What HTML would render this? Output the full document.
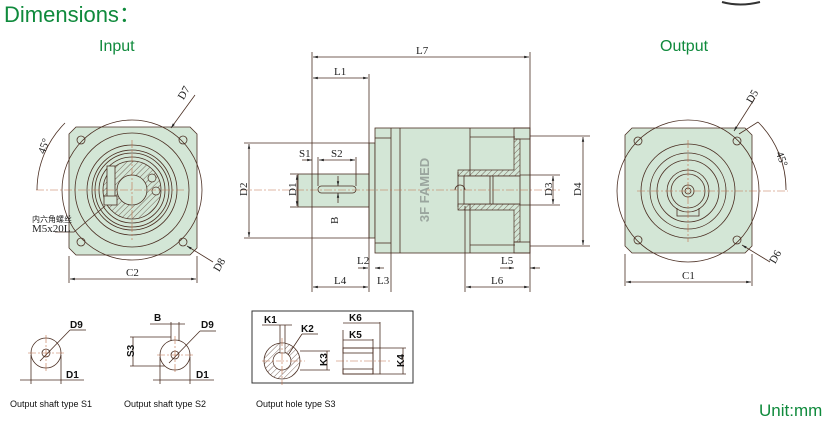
<!DOCTYPE html>
<html><head><meta charset="utf-8"><style>
html,body{margin:0;padding:0;background:#fff;width:833px;height:422px;overflow:hidden}
svg{display:block}
.g{fill:#0f8a3c;font-family:"Liberation Sans",Arial,sans-serif}
.l{fill:none;stroke:#4a2e22;stroke-width:0.8}
.t{font-family:"Liberation Serif","DejaVu Serif",serif;font-size:11px;fill:#222}
.c{stroke:#c0704a;stroke-width:0.6;stroke-dasharray:8 2 2 2;fill:none}
.k{font-family:"Liberation Sans",Arial,sans-serif;font-size:10px;fill:#111;font-weight:bold}
.s{font-family:"Liberation Sans",Arial,sans-serif;font-size:9px;fill:#111}
</style></head><body>
<svg width="833" height="422" viewBox="0 0 833 422" xmlns="http://www.w3.org/2000/svg">
<defs>
<pattern id="h" width="4" height="4" patternUnits="userSpaceOnUse" patternTransform="rotate(45)"><line x1="0" y1="0" x2="0" y2="4" stroke="#4a2e22" stroke-width="0.7"/></pattern>
<marker id="a" markerWidth="6" markerHeight="6" refX="6" refY="3" orient="auto-start-reverse"><path d="M0,1.5 L6,3 L0,4.5z" fill="#222"/></marker>
</defs>
<text x="4" y="22" class="g" font-size="22">Dimensions：</text>
<text x="99" y="51" class="g" font-size="16">Input</text>
<text x="660" y="51" class="g" font-size="16">Output</text>
<text x="759" y="416" class="g" font-size="17">Unit:mm</text>
<path d="M722,2 Q740,7 760,2" stroke="#333" stroke-width="2" fill="none"/>

<!-- INPUT VIEW -->
<g>
<path d="M76,127 L190,127 L197,134 L197,248 L190,255 L76,255 L69,248 L69,134z" fill="#d3e6d6" class="l" style="fill:#d3e6d6"/>
<circle cx="132" cy="190" r="70" class="l"/>
<circle cx="132" cy="190" r="57" class="l"/>
<circle cx="132" cy="190" r="45" class="l"/>
<circle cx="132" cy="190" r="40" class="l"/>
<circle cx="132" cy="190" r="37" class="l"/>
<circle cx="132" cy="190" r="33" class="l"/>
<circle cx="132" cy="190" r="29" fill="url(#h)" stroke="#4a2e22" stroke-width="0.8"/>
<circle cx="132" cy="190" r="15" fill="#d3e6d6" stroke="#4a2e22" stroke-width="0.8"/>
<circle cx="152" cy="178" r="4" fill="#d3e6d6" stroke="#4a2e22" stroke-width="0.7"/>
<circle cx="156" cy="191" r="4" fill="#d3e6d6" stroke="#4a2e22" stroke-width="0.7"/>
<rect x="107" y="166" width="8" height="36" fill="#d3e6d6" class="l" style="fill:#d3e6d6"/>
<rect x="104" y="196" width="13" height="9" fill="#d3e6d6" class="l" style="fill:#d3e6d6"/>
<g class="l"><circle cx="81" cy="140" r="4"/><circle cx="183" cy="140" r="4"/><circle cx="81" cy="242" r="4"/><circle cx="183" cy="242" r="4"/></g>
<line x1="36" y1="190" x2="185" y2="190" class="c"/>
<line x1="132" y1="140" x2="132" y2="240" class="c"/>
<path d="M37,190 A95,95 0 0 1 65,123" class="l"/>
<text x="40" y="152" class="t" transform="rotate(-70 44 150)">45°</text>
<line x1="171" y1="128" x2="195" y2="95" class="l" marker-start="url(#a)"/>
<text x="181" y="96" class="t" transform="rotate(-60 186 96)">D7</text>
<line x1="187" y1="246" x2="213" y2="262" class="l" marker-start="url(#a)"/>
<text x="213" y="270" class="t" transform="rotate(-60 218 266)">D8</text>
<path d="M105,206 L74,232 L55,232" class="l"/>
<text x="32" y="222" font-family="'Noto Sans CJK SC',sans-serif" font-size="8" fill="#222">内六角螺丝</text>
<text x="32" y="232" class="t" font-size="8">M5x20L</text>
<line x1="69" y1="256" x2="69" y2="283" class="l"/><line x1="197" y1="256" x2="197" y2="283" class="l"/>
<line x1="70" y1="279" x2="196" y2="279" class="l" marker-start="url(#a)" marker-end="url(#a)"/>
<text x="126" y="276" class="t">C2</text>
</g>

<!-- SIDE VIEW -->
<g>
<rect x="298" y="174" width="72" height="33" fill="#d3e6d6" class="l" style="fill:#d3e6d6"/>
<rect x="369" y="143" width="6" height="95" fill="#d3e6d6" class="l" style="fill:#d3e6d6"/>
<rect x="375" y="128" width="155" height="125" fill="#d3e6d6" class="l" style="fill:#d3e6d6"/>
<g class="l">
<line x1="391" y1="128" x2="391" y2="253"/><line x1="400" y1="128" x2="400" y2="253"/>
<line x1="375" y1="138" x2="391" y2="138"/><line x1="375" y1="243" x2="391" y2="243"/>
<line x1="470" y1="128" x2="470" y2="253"/>
<line x1="470" y1="137" x2="515" y2="137"/><line x1="470" y1="245" x2="515" y2="245"/>
<line x1="458" y1="172" x2="458" y2="207"/>
</g>
<rect x="514" y="128" width="16" height="11" fill="url(#h)" class="l"/>
<rect x="514" y="242" width="16" height="11" fill="url(#h)" class="l"/>
<path d="M514,139 L514,170 L458,170 L458,176 L520,176 L520,139z" fill="url(#h)" stroke="#4a2e22" stroke-width="0.7"/>
<path d="M514,242 L514,210 L458,210 L458,204 L520,204 L520,242z" fill="url(#h)" stroke="#4a2e22" stroke-width="0.7"/>
<rect x="464" y="176" width="56" height="28" fill="#d3e6d6" class="l" style="fill:#d3e6d6"/>
<line x1="490" y1="176" x2="490" y2="204" class="l"/><line x1="493" y1="176" x2="493" y2="204" class="l"/>
<path d="M455,190 A5,5 0 0 1 465,190" class="l"/>
<rect x="318" y="186" width="38" height="7" rx="3.5" class="l"/>
<line x1="240" y1="190" x2="560" y2="190" class="c"/>
<text x="424" y="195" text-anchor="middle" font-family="Liberation Sans,sans-serif" font-weight="bold" font-size="13" fill="#9aa59e" transform="rotate(-90 424 190)">3F FAMED</text>
<g class="l">
<line x1="312" y1="52" x2="312" y2="292"/><line x1="530" y1="52" x2="530" y2="292"/>
<line x1="369" y1="74" x2="369" y2="292"/>
<line x1="244" y1="143" x2="369" y2="143"/><line x1="244" y1="238" x2="369" y2="238"/>
<line x1="290" y1="174" x2="298" y2="174"/><line x1="290" y1="207" x2="298" y2="207"/>
<line x1="530" y1="136" x2="590" y2="136"/><line x1="530" y1="246" x2="590" y2="246"/>
<line x1="520" y1="175" x2="560" y2="175"/><line x1="520" y1="205" x2="560" y2="205"/>
<line x1="318" y1="157" x2="318" y2="186"/><line x1="356" y1="157" x2="356" y2="186"/>
<line x1="465" y1="206" x2="465" y2="292"/>
<line x1="391" y1="253" x2="391" y2="292"/>
</g>
<line x1="313" y1="57" x2="529" y2="57" class="l" marker-start="url(#a)" marker-end="url(#a)"/>
<text x="416" y="54" class="t">L7</text>
<line x1="313" y1="78" x2="368" y2="78" class="l" marker-start="url(#a)" marker-end="url(#a)"/>
<text x="334" y="75" class="t">L1</text>
<line x1="319" y1="160" x2="355" y2="160" class="l" marker-start="url(#a)" marker-end="url(#a)"/>
<text x="331" y="157" class="t">S2</text>
<line x1="302" y1="160" x2="312" y2="160" class="l" marker-end="url(#a)"/>
<text x="299" y="157" class="t">S1</text>
<line x1="249" y1="144" x2="249" y2="237" class="l" marker-start="url(#a)" marker-end="url(#a)"/>
<text x="236" y="195" class="t" transform="rotate(-90 242 190)">D2</text>
<line x1="297" y1="175" x2="297" y2="206" class="l" marker-start="url(#a)" marker-end="url(#a)"/>
<text x="285" y="195" class="t" transform="rotate(-90 291 190)">D1</text>
<line x1="338" y1="176" x2="338" y2="186" class="l" marker-end="url(#a)"/>
<line x1="338" y1="203" x2="338" y2="193" class="l" marker-end="url(#a)"/>
<text x="328" y="222" class="t" transform="rotate(-90 334 218)">B</text>
<line x1="553" y1="176" x2="553" y2="204" class="l" marker-start="url(#a)" marker-end="url(#a)"/>
<text x="541" y="195" class="t" transform="rotate(-90 547 190)">D3</text>
<line x1="583" y1="137" x2="583" y2="245" class="l" marker-start="url(#a)" marker-end="url(#a)"/>
<text x="570" y="195" class="t" transform="rotate(-90 576 190)">D4</text>
<line x1="313" y1="287" x2="368" y2="287" class="l" marker-start="url(#a)" marker-end="url(#a)"/>
<text x="334" y="284" class="t">L4</text>
<line x1="358" y1="268" x2="368" y2="268" class="l" marker-end="url(#a)"/>
<text x="357" y="264" class="t">L2</text>
<line x1="375" y1="268" x2="384" y2="268" class="l" marker-start="url(#a)"/>
<text x="377" y="284" class="t">L3</text>
<line x1="466" y1="287" x2="529" y2="287" class="l" marker-start="url(#a)" marker-end="url(#a)"/>
<text x="491" y="284" class="t">L6</text>
<line x1="500" y1="268" x2="514" y2="268" class="l" marker-end="url(#a)"/>
<line x1="540" y1="268" x2="530" y2="268" class="l" marker-end="url(#a)"/>
<text x="501" y="264" class="t">L5</text>
</g>

<!-- OUTPUT VIEW -->
<g>
<path d="M632,128 L745,128 L752,135 L752,246 L745,253 L632,253 L625,246 L625,135z" fill="#d3e6d6" class="l" style="fill:#d3e6d6"/>
<circle cx="688" cy="191" r="71" class="l"/>
<circle cx="688" cy="191" r="47" class="l"/>
<circle cx="688" cy="191" r="38" class="l"/>
<circle cx="688" cy="191" r="31" class="l"/>
<circle cx="688" cy="191" r="21" class="l"/>
<circle cx="688" cy="191" r="17" class="l"/>
<circle cx="688" cy="191" r="6" class="l"/>
<circle cx="688" cy="191" r="3" class="l"/>
<path d="M677,208 L677,216 L699,216 L699,208" class="l"/>
<g class="l"><circle cx="638" cy="141" r="4"/><circle cx="737" cy="141" r="4"/><circle cx="638" cy="240" r="4"/><circle cx="737" cy="240" r="4"/></g>
<line x1="637" y1="191" x2="788" y2="191" class="c"/>
<line x1="688" y1="140" x2="688" y2="242" class="c"/>
<path d="M758,122 A95,95 0 0 1 786,190" class="l"/>
<line x1="739" y1="134" x2="758" y2="122" class="l"/>
<text x="778" y="160" class="t" transform="rotate(70 782 155)">45°</text>
<line x1="734" y1="131" x2="755" y2="98" class="l" marker-start="url(#a)"/>
<text x="745" y="100" class="t" transform="rotate(-60 752 96)">D5</text>
<line x1="742" y1="245" x2="770" y2="262" class="l" marker-start="url(#a)"/>
<text x="769" y="262" class="t" transform="rotate(-60 774 258)">D6</text>
<line x1="625" y1="254" x2="625" y2="286" class="l"/><line x1="752" y1="254" x2="752" y2="286" class="l"/>
<line x1="626" y1="282" x2="751" y2="282" class="l" marker-start="url(#a)" marker-end="url(#a)"/>
<text x="682" y="279" class="t">C1</text>
</g>

<!-- S1 -->
<g>
<circle cx="46" cy="353" r="15" class="l"/><circle cx="46" cy="353" r="4" class="l"/>
<line x1="28" y1="353" x2="64" y2="353" class="c"/><line x1="46" y1="335" x2="46" y2="371" class="c"/>
<line x1="40" y1="361" x2="70" y2="330" class="l"/><line x1="70" y1="330" x2="86" y2="330" class="l"/>
<text x="70" y="328" class="k">D9</text>
<line x1="31" y1="355" x2="31" y2="384" class="l"/><line x1="61" y1="355" x2="61" y2="384" class="l"/>
<line x1="20" y1="380" x2="84" y2="380" class="l"/>
<text x="66" y="378" class="k">D1</text>
<text x="10" y="407" class="s">Output shaft type S1</text>
</g>
<!-- S2 -->
<g>
<circle cx="175" cy="355" r="15" class="l"/><circle cx="175" cy="355" r="4" class="l"/>
<line x1="157" y1="355" x2="193" y2="355" class="c"/><line x1="175" y1="336" x2="175" y2="373" class="c"/>
<path d="M171,341 L171,322 M179,341 L179,322" class="l"/>
<line x1="150" y1="324" x2="185" y2="324" class="l"/>
<text x="154" y="321" class="k">B</text>
<line x1="169" y1="363" x2="200" y2="331" class="l"/><line x1="200" y1="331" x2="216" y2="331" class="l"/>
<text x="201" y="328" class="k">D9</text>
<line x1="130" y1="337" x2="171" y2="337" class="l"/><line x1="130" y1="366" x2="165" y2="366" class="l"/>
<line x1="133" y1="337" x2="133" y2="366" class="l"/>
<text x="124" y="357" class="k" transform="rotate(-90 129 352)">S3</text>
<line x1="160" y1="357" x2="160" y2="384" class="l"/><line x1="190" y1="357" x2="190" y2="384" class="l"/>
<line x1="153" y1="380" x2="214" y2="380" class="l"/>
<text x="196" y="378" class="k">D1</text>
<text x="124" y="407" class="s">Output shaft type S2</text>
</g>
<!-- S3 -->
<g>
<rect x="252" y="311" width="161" height="72" fill="none" stroke="#333" stroke-width="1"/>
<circle cx="282" cy="361" r="18" fill="url(#h)" stroke="#4a2e22" stroke-width="0.8"/>
<circle cx="282" cy="361" r="9" fill="#fff" stroke="#4a2e22" stroke-width="0.7"/>
<rect x="280" y="343" width="5" height="10" fill="#fff" stroke="#4a2e22" stroke-width="0.6"/>
<line x1="262" y1="361" x2="305" y2="361" class="c"/><line x1="282" y1="338" x2="282" y2="385" class="c"/>
<path d="M280,325 L280,343 M285,325 L285,343" class="l"/>
<line x1="262" y1="325" x2="292" y2="325" class="l"/>
<text x="264" y="323" class="k">K1</text>
<line x1="288" y1="355" x2="302" y2="334" class="l"/><line x1="302" y1="334" x2="318" y2="334" class="l"/>
<text x="301" y="332" class="k">K2</text>
<line x1="300" y1="351" x2="330" y2="351" class="l"/><line x1="300" y1="370" x2="330" y2="370" class="l"/>
<line x1="327" y1="351" x2="327" y2="370" class="l"/>
<text x="316" y="365" class="k" transform="rotate(-90 322 360)">K3</text>
<rect x="343" y="348" width="30" height="26" fill="#fff" class="l"/>
<rect x="343" y="348" width="30" height="5" fill="url(#h)" class="l"/>
<rect x="343" y="369" width="30" height="5" fill="url(#h)" class="l"/>
<rect x="373" y="348" width="7" height="26" fill="url(#h)" class="l"/>
<line x1="336" y1="361" x2="390" y2="361" class="c"/>
<line x1="380" y1="348" x2="406" y2="348" class="l"/><line x1="380" y1="374" x2="406" y2="374" class="l"/>
<line x1="403" y1="348" x2="403" y2="374" class="l"/>
<text x="393" y="366" class="k" transform="rotate(-90 399 361)">K4</text>
<line x1="343" y1="330" x2="343" y2="348" class="l"/><line x1="380" y1="322" x2="380" y2="348" class="l"/><line x1="373" y1="339" x2="373" y2="348" class="l"/>
<line x1="343" y1="323" x2="380" y2="323" class="l"/>
<text x="349" y="321" class="k">K6</text>
<line x1="343" y1="340" x2="373" y2="340" class="l"/>
<text x="349" y="338" class="k">K5</text>
<text x="256" y="407" class="s">Output hole type S3</text>
</g>
</svg>
</body></html>
